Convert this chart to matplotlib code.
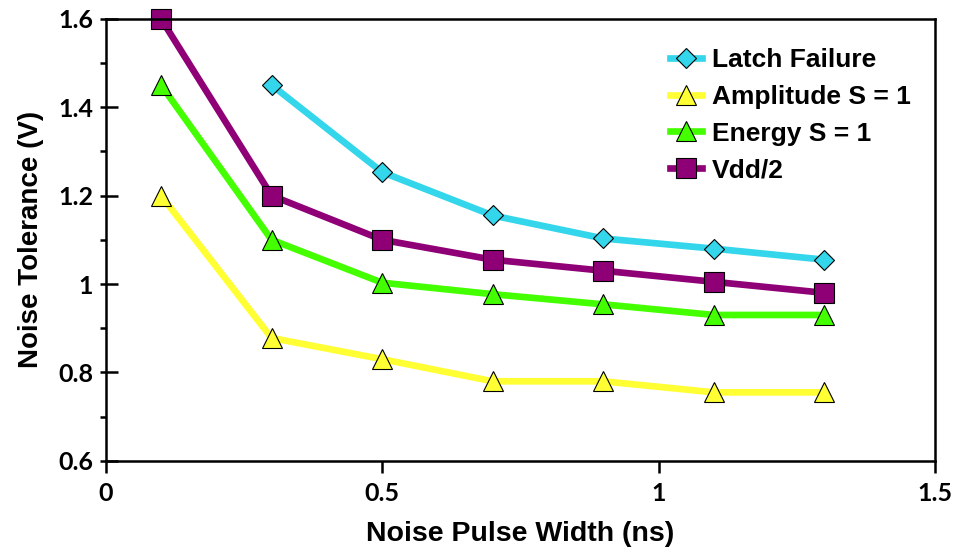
import matplotlib
matplotlib.use("Agg")
import matplotlib.pyplot as plt
from matplotlib.ticker import MultipleLocator, FuncFormatter

x_latch = [0.3, 0.5, 0.7, 0.9, 1.1, 1.3]
latch = [1.45, 1.253, 1.155, 1.103, 1.08, 1.055]
x_all = [0.1, 0.3, 0.5, 0.7, 0.9, 1.1, 1.3]
amplitude = [1.2, 0.878, 0.83, 0.78, 0.78, 0.755, 0.755]
energy = [1.45, 1.10, 1.003, 0.977, 0.954, 0.93, 0.93]
vdd2 = [1.6, 1.2, 1.10, 1.055, 1.03, 1.005, 0.98]

labels = ["Latch Failure", "Amplitude S = 1", "Energy S = 1", "Vdd/2"]
colors = ["#33D6EA", "#FFFF33", "#44FF00", "#8F0077"]

plt.rcParams["font.family"] = ["Lato", "DejaVu Sans"]
plt.rcParams["font.weight"] = "bold"

fig = plt.figure(figsize=(9.61, 5.5), dpi=100)
ax = fig.add_axes([0.110, 0.162, 0.863, 0.804])

lw = 4.8
ax.plot(x_latch, latch, color=colors[0], lw=lw, marker="D", ms=10,
        mfc=colors[0], mec="black", mew=0.8, label=labels[0], clip_on=False)
ax.plot(x_all, amplitude, color=colors[1], lw=lw, marker="^", ms=14,
        mfc=colors[1], mec="black", mew=0.8, label=labels[1], clip_on=False)
ax.plot(x_all, energy, color=colors[2], lw=lw, marker="^", ms=14,
        mfc=colors[2], mec="black", mew=0.8, label=labels[2], clip_on=False)
ax.plot(x_all, vdd2, color=colors[3], lw=lw, marker="s", ms=14,
        mfc=colors[3], mec="black", mew=0.8, label=labels[3], clip_on=False)

ax.set_xlim(0, 1.5)
ax.set_ylim(0.6, 1.6)
ax.xaxis.set_major_locator(MultipleLocator(0.5))
ax.yaxis.set_major_locator(MultipleLocator(0.2))
ax.yaxis.set_minor_locator(MultipleLocator(0.1))
ax.yaxis.remove_overlapping_locs = False
fmt = FuncFormatter(lambda v, p: f"{v:g}")
ax.xaxis.set_major_formatter(fmt)
ax.yaxis.set_major_formatter(fmt)

for s in ax.spines.values():
    s.set_linewidth(1.8)
ax.tick_params(axis="x", which="major", direction="out", length=8.5, width=1.8,
               labelsize=18, pad=7, top=False)
ax.tick_params(axis="y", which="major", direction="in", length=8.5, width=1.8,
               labelsize=18, pad=9, right=False)
ax.tick_params(axis="y", which="minor", direction="out", length=4.5, width=1.8, right=False)

ax.set_xlabel("Noise Pulse Width (ns)", fontsize=20.5, fontweight="bold",
              family="Liberation Sans", labelpad=11)
ax.set_ylabel("Noise Tolerance (V)", fontsize=20, fontweight="bold",
              family="Liberation Sans", labelpad=10)

leg = ax.legend(loc="upper left", bbox_to_anchor=(0.658, 0.975), frameon=False,
                prop={"family": "Liberation Sans", "weight": "bold", "size": 19},
                handlelength=1.2, handletextpad=0.4, labelspacing=0.48,
                borderaxespad=0.3)

fig.savefig("out.png", dpi=100)
